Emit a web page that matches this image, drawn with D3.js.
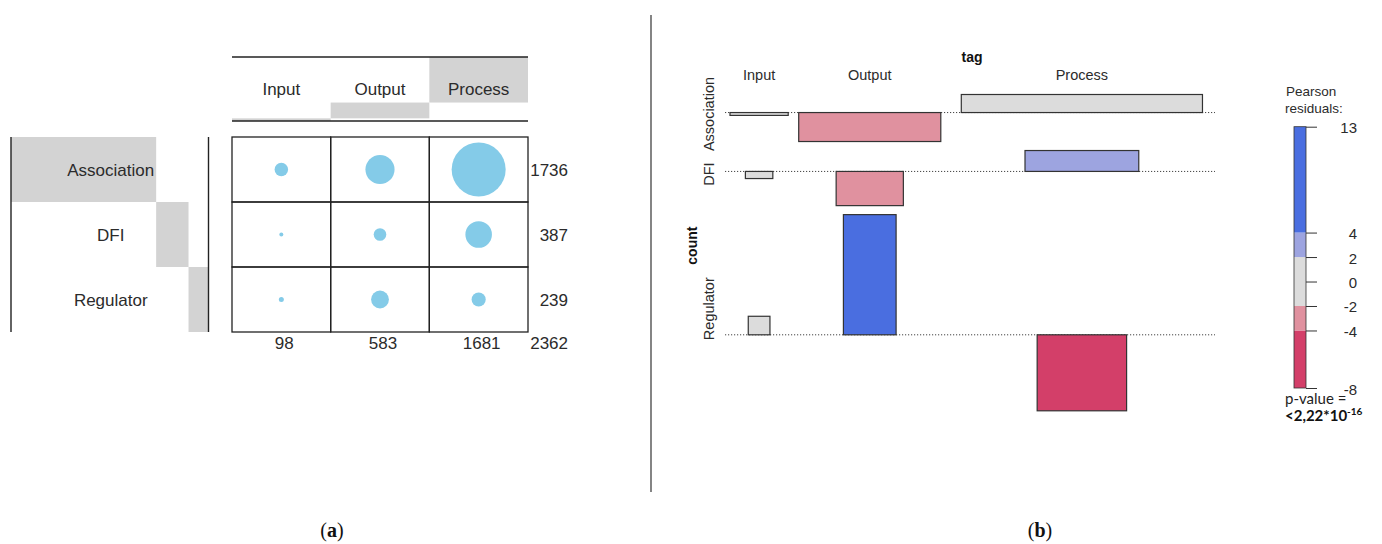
<!DOCTYPE html>
<html><head><meta charset="utf-8">
<script src="https://cdn.jsdelivr.net/npm/d3@7"></script>
<style>html,body{margin:0;padding:0;background:#fff;} svg{display:block;}</style>
</head><body><svg id="c" width="1382" height="544"></svg>
<script>
// ---------- data ----------
const tagLevels = ["Input", "Output", "Process"];
const groupLevels = ["Association", "DFI", "Regulator"];
// panel (a): counts per cell
const countsAssociation = [80, 373, 1283];
const countsDFI = [7, 70, 310];
const countsRegulator = [11, 140, 88];
const rowTotals = [1736, 387, 239];
const colTotals = [98, 583, 1681];
const grandTotal = 2362;
// panel (b): expected counts (bar widths ~ sqrt) and Pearson residuals (bar heights)
const expectedAssociation = [72, 429, 1236];
const expectedDFI = [16, 96, 275];
const expectedRegulator = [10, 59, 170];
const residualsAssociation = [-0.3, -3.05, 1.9];
const residualsDFI = [-0.75, -3.6, 2.2];
const residualsRegulator = [1.95, 12.65, -8.0];
// legend
const legendTickValues = [12.65, 4, 2, 0, -2, -4, -8.7];
const legendTickLabels = ["13", "4", "2", "0", "-2", "-4", "-8"];
const shadeBreaks = [-4, -2, 2, 4];
const shadeColors = ["#d33f69", "#e0919f", "#dcdcdc", "#9da4e0", "#4a6ee0"];
const captions = ["a", "b"];

// ---------- setup ----------
const svg = d3.select("#c");
const SANS = "'Liberation Sans', Arial, sans-serif";
const TXT = "#2b2b2b";

// ================= panel (a) =================
const gA = svg.append("g");
const xA = d3.scaleBand().domain(tagLevels).range([232, 528]);
const yA = d3.scaleBand().domain(groupLevels).range([137, 332]);
const counts = [countsAssociation, countsDFI, countsRegulator];
const cells = groupLevels.flatMap((g, i) => tagLevels.map((t, j) => ({ g, t, v: counts[i][j] })));
const rA = d3.scaleSqrt().domain([0, d3.max(cells, d => d.v)]).range([0, 27]);

// column margin bars (header)
const hy = d3.scaleLinear().domain([0, grandTotal]).range([121, 57]);
const colCum = d3.cumsum(colTotals);
gA.selectAll("rect.hbar").data(tagLevels).join("rect").attr("class", "hbar")
  .attr("x", d => xA(d)).attr("width", xA.bandwidth())
  .attr("y", (d, i) => hy(colCum[i]))
  .attr("height", (d, i) => hy(colCum[i] - colTotals[i]) - hy(colCum[i]))
  .attr("fill", "#d3d3d3");
// row margin bars
const rx = d3.scaleLinear().domain([0, grandTotal]).range([11, 208.5]);
const rowCum = d3.cumsum(rowTotals);
gA.selectAll("rect.rbar").data(groupLevels).join("rect").attr("class", "rbar")
  .attr("x", (d, i) => rx(rowCum[i] - rowTotals[i]))
  .attr("width", (d, i) => rx(rowCum[i]) - rx(rowCum[i] - rowTotals[i]))
  .attr("y", d => yA(d)).attr("height", yA.bandwidth())
  .attr("fill", "#d3d3d3");

// header lines
hy.range().forEach(y => gA.append("line").attr("x1", xA.range()[0]).attr("x2", xA.range()[1])
  .attr("y1", y).attr("y2", y).attr("stroke", "#222").attr("stroke-width", 1.4));
// row-label side lines
rx.range().forEach(x => gA.append("line").attr("x1", x).attr("x2", x)
  .attr("y1", yA.range()[0]).attr("y2", yA.range()[1]).attr("stroke", "#222").attr("stroke-width", 1.4));

// grid cells
gA.selectAll("rect.cell").data(cells).join("rect").attr("class", "cell")
  .attr("x", d => xA(d.t)).attr("y", d => yA(d.g))
  .attr("width", xA.bandwidth()).attr("height", yA.bandwidth())
  .attr("fill", "none").attr("stroke", "#222").attr("stroke-width", 1.3);
// balloons
gA.selectAll("circle").data(cells).join("circle")
  .attr("cx", d => xA(d.t) + xA.bandwidth() / 2).attr("cy", d => yA(d.g) + yA.bandwidth() / 2)
  .attr("r", d => rA(d.v)).attr("fill", "#84cbe8");

// labels
gA.selectAll("text.col").data(tagLevels).join("text").attr("class", "col")
  .attr("x", d => xA(d) + xA.bandwidth() / 2).attr("y", (hy.range()[0] + hy.range()[1]) / 2 + 6)
  .attr("text-anchor", "middle").attr("font-family", SANS).attr("font-size", 17).attr("fill", TXT)
  .text(d => d);
gA.selectAll("text.row").data(groupLevels).join("text").attr("class", "row")
  .attr("x", (rx.range()[0] + rx.range()[1]) / 2 + 1).attr("y", d => yA(d) + yA.bandwidth() / 2 + 6)
  .attr("text-anchor", "middle").attr("font-family", SANS).attr("font-size", 17).attr("fill", TXT)
  .text(d => d);
gA.selectAll("text.rtot").data(rowTotals).join("text").attr("class", "rtot")
  .attr("x", 568).attr("y", (d, i) => yA(groupLevels[i]) + yA.bandwidth() / 2 + 6)
  .attr("text-anchor", "end").attr("font-family", SANS).attr("font-size", 17).attr("fill", TXT)
  .text(d => d);
gA.selectAll("text.ctot").data(colTotals).join("text").attr("class", "ctot")
  .attr("x", (d, i) => xA(tagLevels[i]) + xA.bandwidth() / 2 + 3).attr("y", 349)
  .attr("text-anchor", "middle").attr("font-family", SANS).attr("font-size", 17).attr("fill", TXT)
  .text(d => d);
gA.append("text").attr("x", 568).attr("y", 349).attr("text-anchor", "end")
  .attr("font-family", SANS).attr("font-size", 17).attr("fill", TXT).text(grandTotal);

// divider
svg.append("line").attr("x1", 651).attr("x2", 651).attr("y1", 15).attr("y2", 492)
  .attr("stroke", "#333").attr("stroke-width", 1.2);

// ================= panel (b) =================
const gB = svg.append("g");
const resid = [residualsAssociation, residualsDFI, residualsRegulator];
const expd = [expectedAssociation, expectedDFI, expectedRegulator];
const kY = d3.scaleLinear().domain([0, 1]).range([0, 9.5]);
const kX = d3.scaleLinear().domain([0, 1]).range([0, 6.86]);
const shade = d3.scaleThreshold().domain(shadeBreaks).range(shadeColors);

const colMaxW = tagLevels.map((t, j) => d3.max(expd, r => kX(Math.sqrt(r[j]))));
const colGaps = [10.5, 20.5];
const colCenter = [];
let colLeft = 730;
colMaxW.forEach((w, j) => { colCenter.push(colLeft + w / 2); colLeft += w + (colGaps[j] || 0); });

const rowBase = [], rowExt = [];
let rowTop = 94.5;
resid.forEach(r => {
  const pos = d3.max([0, ...r]), neg = -d3.min([0, ...r]);
  const b = rowTop + kY(pos);
  rowBase.push(b);
  const bot = b + kY(neg);
  rowExt.push([rowTop, bot]);
  rowTop = bot + 9;
});
const plotL = 725, plotR = 1215;

// baselines
gB.selectAll("line.base").data(rowBase).join("line").attr("class", "base")
  .attr("x1", plotL).attr("x2", plotR).attr("y1", d => d).attr("y2", d => d)
  .attr("stroke", "#444").attr("stroke-width", 1).attr("stroke-dasharray", "1.2,1.8");

const bars = groupLevels.flatMap((g, i) => tagLevels.map((t, j) => ({ i, j, res: resid[i][j], e: expd[i][j] })));
gB.selectAll("rect.bar").data(bars).join("rect").attr("class", "bar")
  .attr("x", d => colCenter[d.j] - kX(Math.sqrt(d.e)) / 2)
  .attr("width", d => kX(Math.sqrt(d.e)))
  .attr("y", d => d.res > 0 ? rowBase[d.i] - kY(d.res) : rowBase[d.i])
  .attr("height", d => kY(Math.abs(d.res)))
  .attr("fill", d => shade(d.res)).attr("stroke", "#333").attr("stroke-width", 1.2);

// column labels
gB.selectAll("text.col").data(tagLevels).join("text").attr("class", "col")
  .attr("x", (d, j) => colCenter[j]).attr("y", 80)
  .attr("text-anchor", "middle").attr("font-family", SANS).attr("font-size", 14.5).attr("fill", TXT)
  .text(d => d);
gB.append("text").attr("x", (plotL + plotR) / 2 + 2).attr("y", 62).attr("text-anchor", "middle")
  .attr("font-family", SANS).attr("font-size", 14).attr("font-weight", "bold").attr("fill", "#111").text("tag");
// row labels
gB.selectAll("text.row").data(groupLevels).join("text").attr("class", "row")
  .attr("transform", (d, i) => `translate(714,${(rowExt[i][0] + rowExt[i][1]) / 2 - 4}) rotate(-90)`)
  .attr("text-anchor", "middle").attr("font-family", SANS).attr("font-size", 14.5).attr("fill", TXT)
  .text(d => d);
gB.append("text").attr("transform", `translate(697,${(rowExt[0][0] + rowExt[2][1]) / 2 - 7}) rotate(-90)`)
  .attr("text-anchor", "middle").attr("font-family", SANS).attr("font-size", 14).attr("font-weight", "bold")
  .attr("fill", "#111").text("count");

// legend
const gL = svg.append("g");
const yL = d3.scaleLinear().domain([d3.min(legendTickValues), d3.max(legendTickValues)]).range([388, 126.7]);
const segEdges = [d3.min(legendTickValues), ...shadeBreaks, d3.max(legendTickValues)];
const segs = d3.pairs(segEdges);
gL.selectAll("rect.seg").data(segs).join("rect").attr("class", "seg")
  .attr("x", 1294).attr("width", 12)
  .attr("y", d => yL(d[1])).attr("height", d => yL(d[0]) - yL(d[1]))
  .attr("fill", d => shade((d[0] + d[1]) / 2));
gL.append("rect").attr("x", 1294).attr("width", 12).attr("y", yL.range()[1]).attr("height", yL.range()[0] - yL.range()[1])
  .attr("fill", "none").attr("stroke", "#333").attr("stroke-width", 0.8);
const axL = d3.axisRight(yL).tickValues(legendTickValues).tickSize(11).tickPadding(28)
  .tickFormat((d, i) => legendTickLabels[i]);
const axG = gL.append("g").attr("transform", "translate(1306,0)").call(axL);
axG.select(".domain").remove();
axG.selectAll(".tick line").attr("stroke", "#333");
axG.selectAll(".tick text").attr("text-anchor", "end").attr("x", 51).attr("dy", "0.4em")
  .attr("font-family", SANS).attr("font-size", 15).attr("fill", TXT);
gL.append("text").attr("x", 1286).attr("y", 96).attr("font-family", SANS).attr("font-size", 13.5).attr("fill", TXT).text("Pearson");
gL.append("text").attr("x", 1285).attr("y", 113).attr("font-family", SANS).attr("font-size", 13.5).attr("fill", TXT).text("residuals:");
const PF = "Lato, 'Open Sans', sans-serif";
gL.append("text").attr("x", 1285).attr("y", 404).attr("font-family", PF).attr("font-size", 15).attr("fill", "#222").text("p-value =");
const pv = gL.append("text").attr("x", 1285).attr("y", 421).attr("font-family", PF).attr("font-size", 15)
  .attr("font-weight", "bold").attr("fill", "#111");
pv.append("tspan").text("<2,22*10");
pv.append("tspan").attr("dy", -6).attr("font-size", 10).text("-16");

// captions
const capX = d3.scalePoint().domain(captions).range([332, 1040]);
captions.forEach(c => {
  const t = svg.append("text").attr("x", capX(c)).attr("y", 537).attr("text-anchor", "middle")
    .attr("font-family", "'Liberation Serif', 'DejaVu Serif', serif").attr("font-size", 20).attr("fill", "#111");
  t.append("tspan").text("(");
  t.append("tspan").attr("font-weight", "bold").text(c);
  t.append("tspan").text(")");
});
</script></body></html>
